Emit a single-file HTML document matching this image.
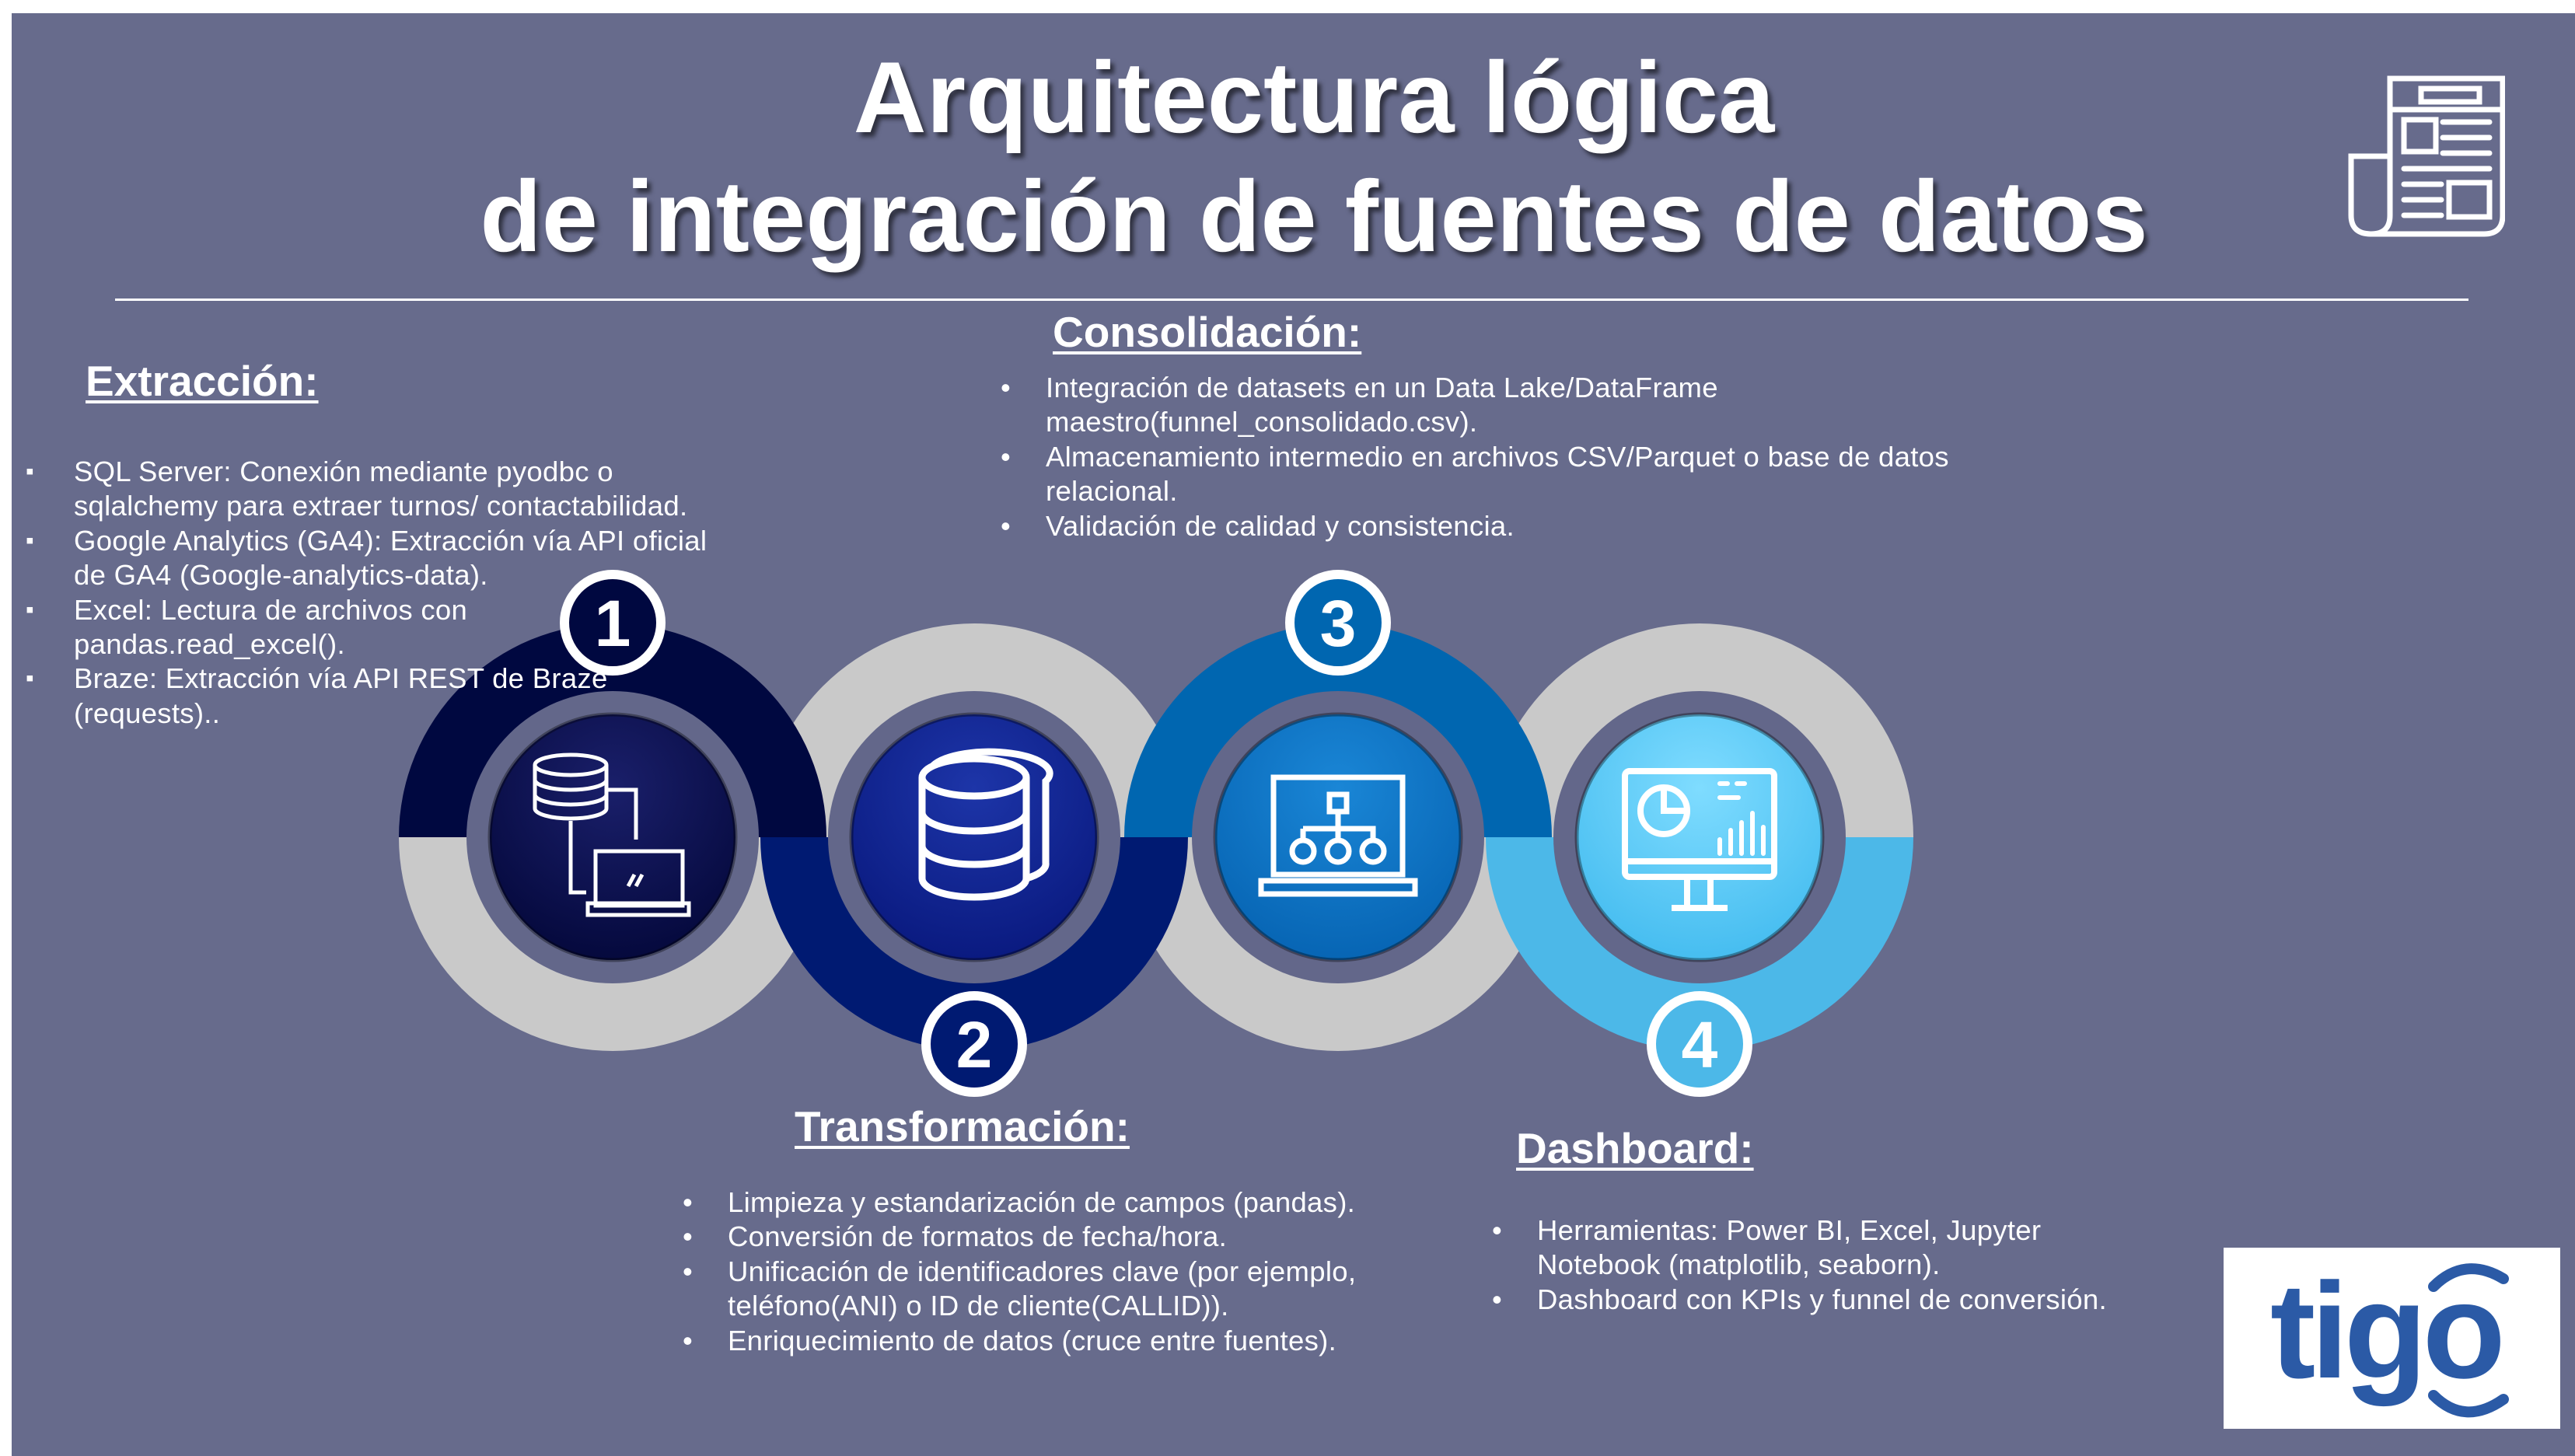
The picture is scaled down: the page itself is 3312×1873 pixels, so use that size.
<!DOCTYPE html>
<html><head><meta charset="utf-8"><style>
body{margin:0;width:3312px;height:1873px;overflow:hidden;background:#fff;font-family:"Liberation Sans",Arial,sans-serif}
#bg{position:absolute;left:15px;top:17px;width:3297px;height:1856px;background:#676b8c}
h1{position:absolute;left:0;width:3380px;text-align:center;margin:0;color:#fff;font-size:130px;font-weight:bold;text-shadow:5px 6px 6px rgba(0,0,0,.55);line-height:150px}
.hd{position:absolute;color:#fff;font-weight:bold;font-size:55px;text-decoration:underline;text-decoration-thickness:4px;text-underline-offset:6px}
.ul{position:absolute;color:#fff;font-size:36.5px;letter-spacing:0.3px;line-height:44.4px;margin:0;padding:0;list-style:none;white-space:nowrap}
.ul li{position:relative}
.ul li:before{position:absolute;left:-58px}
.sq li:before{content:"▪";left:-62px;font-size:30px}
.dot li:before{content:"•"}
</style></head><body>
<div id="bg"></div>
<h1 style="top:50px">Arquitectura lógica</h1>
<h1 style="top:203px">de integración de fuentes de datos</h1>
<div style="position:absolute;left:148px;top:384px;width:3027px;height:3px;background:#fff"></div>

<svg style="position:absolute;left:3020px;top:97px" width="202" height="208" viewBox="0 0 202 208" fill="none" stroke="#fff" stroke-width="7" stroke-linecap="round">
<path d="M54 104V4H199V180Q199 204 175 204H30Q4 204 4 180V104H54V180Q54 204 30 204"/>
<path d="M54 44H199"/><rect x="94" y="17" width="75" height="17"/>
<rect x="72" y="57" width="41" height="41"/><path d="M122 60H182M122 80H182M122 100H182M72 120H182M72 140H120M72 160H120M72 180H120"/>
<rect x="130" y="138" width="52" height="44"/>
</svg>

<svg style="position:absolute;left:0;top:0" width="3312" height="1873">
<defs>
<radialGradient id="b1" cx="50%" cy="30%" r="70%"><stop offset="0" stop-color="#1a1f6a"/><stop offset="1" stop-color="#05093d"/></radialGradient>
<radialGradient id="b2" cx="50%" cy="30%" r="70%"><stop offset="0" stop-color="#1d35a8"/><stop offset="1" stop-color="#0a1a80"/></radialGradient>
<radialGradient id="b3" cx="50%" cy="30%" r="70%"><stop offset="0" stop-color="#1a86d6"/><stop offset="1" stop-color="#0765b4"/></radialGradient>
<radialGradient id="b4" cx="50%" cy="30%" r="70%"><stop offset="0" stop-color="#7fdcff"/><stop offset="1" stop-color="#46bdf0"/></radialGradient>
</defs>
<path d="M513 1077A275 275 0 0 0 1063 1077Z" fill="#c9c9c9"/>
<path d="M978 1077A275 275 0 0 1 1528 1077Z" fill="#c9c9c9"/>
<path d="M1446 1077A275 275 0 0 0 1996 1077Z" fill="#c9c9c9"/>
<path d="M1911 1077A275 275 0 0 1 2461 1077Z" fill="#c9c9c9"/>
<path d="M513 1077A275 275 0 0 1 1063 1077Z" fill="#000840"/>
<path d="M978 1077A275 275 0 0 0 1528 1077Z" fill="#001a72"/>
<path d="M1446 1077A275 275 0 0 1 1996 1077Z" fill="#0066b0"/>
<path d="M1911 1077A275 275 0 0 0 2461 1077Z" fill="#4cb8e8"/>
<g fill="#63678a">
<circle cx="788" cy="1077" r="188"/><circle cx="1253" cy="1077" r="188"/><circle cx="1721" cy="1077" r="188"/><circle cx="2186" cy="1077" r="188"/></g>
<g stroke="rgba(0,0,0,.35)" stroke-width="5">
<circle cx="788" cy="1077" r="158" fill="url(#b1)"/><circle cx="1253" cy="1077" r="158" fill="url(#b2)"/><circle cx="1721" cy="1077" r="158" fill="url(#b3)"/><circle cx="2186" cy="1077" r="158" fill="url(#b4)"/></g>
<g fill="none" stroke="#fff" stroke-width="5">
<ellipse cx="734" cy="984" rx="46" ry="13"/><path d="M688 984V1040A46 13 0 0 0 780 1040V984M688 1003A46 13 0 0 0 780 1003M688 1022A46 13 0 0 0 780 1022"/>
<path d="M780 1016H818V1080M734 1056V1148H754"/>
<rect x="766" y="1095" width="112" height="70"/><rect x="756" y="1162" width="130" height="15"/><path d="M808 1140L816 1125M818 1140L826 1125"/>
</g>
<g fill="none" stroke="#fff" stroke-width="9">
<ellipse cx="1253" cy="1000" rx="67" ry="24"/><path d="M1186 1000V1130A67 24 0 0 0 1320 1130V1000"/>
<path d="M1186 1045A67 24 0 0 0 1320 1045M1186 1088A67 24 0 0 0 1320 1088"/>
<path d="M1200 985A67 24 0 0 1 1345 1005V1110A67 24 0 0 1 1320 1130"/>
</g>
<g fill="none" stroke="#fff" stroke-width="7">
<rect x="1638" y="1000" width="166" height="125"/><rect x="1622" y="1133" width="198" height="17"/>
<rect x="1710" y="1022" width="22" height="22"/><path d="M1721 1044V1066M1676 1066H1766V1080M1676 1066V1080M1721 1066V1080"/>
<circle cx="1676" cy="1095" r="14"/><circle cx="1721" cy="1095" r="14"/><circle cx="1766" cy="1095" r="14"/>
</g>
<g fill="none" stroke="#fff" stroke-width="8">
<rect x="2090" y="992" width="192" height="136" rx="6"/><path d="M2090 1108H2282M2170 1128V1165M2200 1128V1165M2150 1168H2222"/>
<circle cx="2140" cy="1043" r="30"/><path d="M2140 1013V1043H2170"/>
<path d="M2212 1008H2222M2234 1008H2244M2212 1026H2236M2212 1080V1098M2226 1068V1098M2240 1058V1098M2254 1046V1098M2268 1064V1098" stroke-width="6" stroke-linecap="round"/>
</g>
<g stroke="#fff" stroke-width="12">
<circle cx="788" cy="801" r="62" fill="#000840"/><circle cx="1253" cy="1343" r="62" fill="#001a72"/>
<circle cx="1721" cy="801" r="62" fill="#0066b0"/><circle cx="2186" cy="1343" r="62" fill="#4cb8e8"/></g>
<g fill="#fff" font-family="Liberation Sans,Arial,sans-serif" font-weight="bold" font-size="84" text-anchor="middle">
<text x="788" y="831">1</text><text x="1253" y="1373">2</text><text x="1721" y="831">3</text><text x="2186" y="1373">4</text></g>
</svg>

<div class="hd" style="left:110px;top:458px">Extracción:</div>
<ul class="ul sq" style="left:95px;top:585px">
<li>SQL Server: Conexión mediante pyodbc o<br>sqlalchemy para extraer turnos/ contactabilidad.</li>
<li>Google Analytics (GA4): Extracción vía API oficial<br>de GA4 (Google-analytics-data).</li>
<li>Excel: Lectura de archivos con<br>pandas.read_excel().</li>
<li>Braze: Extracción vía API REST de Braze<br>(requests)..</li></ul>

<div class="hd" style="left:1354px;top:395px">Consolidación:</div>
<ul class="ul dot" style="left:1345px;top:477px">
<li>Integración de datasets en un Data Lake/DataFrame<br>maestro(funnel_consolidado.csv).</li>
<li>Almacenamiento intermedio en archivos CSV/Parquet o base de datos<br>relacional.</li>
<li>Validación de calidad y consistencia.</li></ul>

<div class="hd" style="left:1022px;top:1417px">Transformación:</div>
<ul class="ul dot" style="left:936px;top:1525px">
<li>Limpieza y estandarización de campos (pandas).</li>
<li>Conversión de formatos de fecha/hora.</li>
<li>Unificación de identificadores clave (por ejemplo,<br>teléfono(ANI) o ID de cliente(CALLID)).</li>
<li>Enriquecimiento de datos (cruce entre fuentes).</li></ul>

<div class="hd" style="left:1950px;top:1445px">Dashboard:</div>
<ul class="ul dot" style="left:1977px;top:1561px">
<li>Herramientas: Power BI, Excel, Jupyter<br>Notebook (matplotlib, seaborn).</li>
<li>Dashboard con KPIs y funnel de conversión.</li></ul>

<div style="position:absolute;left:2860px;top:1605px;width:433px;height:233px;background:#fff">
<div style="position:absolute;left:60px;top:8px;color:#2b5aa6;font-weight:bold;font-size:175px;letter-spacing:-6px;line-height:200px">tigo</div>
<svg style="position:absolute;left:250px;top:10px" width="140" height="220"><path d="M20 40Q60 0 110 30" fill="none" stroke="#2b5aa6" stroke-width="14" stroke-linecap="round"/><path d="M20 180Q60 220 110 185" fill="none" stroke="#2b5aa6" stroke-width="14" stroke-linecap="round"/></svg>
</div>
</body></html>
